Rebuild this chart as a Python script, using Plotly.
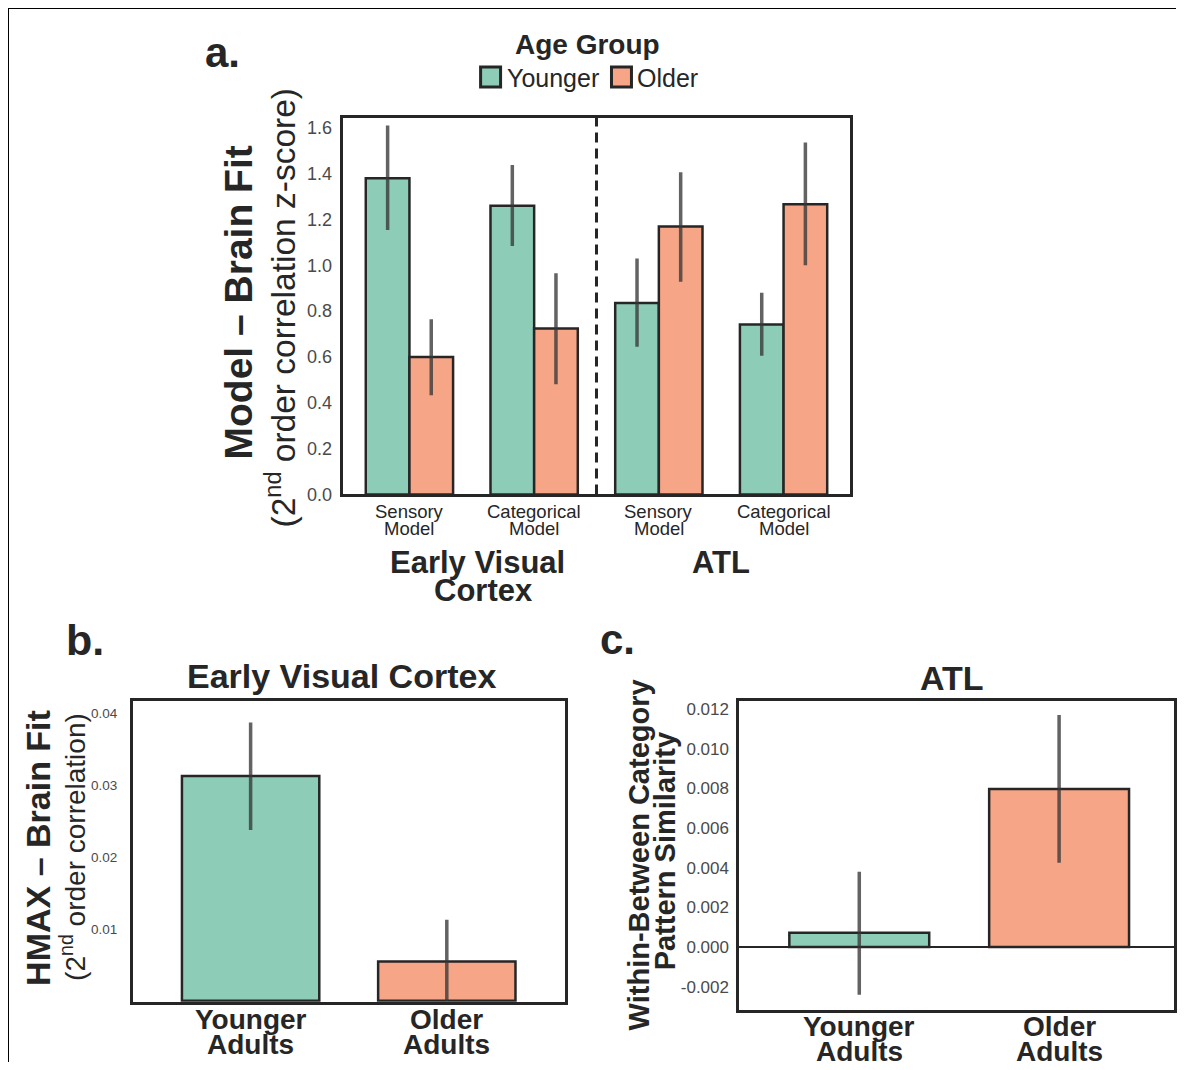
import plotly.graph_objects as go

# The page adds an 8px body margin; the photographed page also comes out
# slightly squashed vertically (about 0.991), so vertical reference pixel
# positions are stretched by that factor before being mapped to paper space.
OFF = 8
KY = 0.991
W = 1185 - 2 * OFF
H = int(round(1070 / KY)) - 2 * OFF


def px(x):
    return (x - OFF) / W


def py(y):
    return 1 - (y / KY - OFF) / H


# ---------------- data ----------------
# Panel a
a_tick_line1 = ["Sensory", "Categorical", "Sensory", "Categorical"]
a_tick_line2 = ["Model", "Model", "Model", "Model"]
a_positions = [0, 1, 2, 3]
a_younger = [1.38, 1.26, 0.835, 0.742]
a_younger_hi = [1.61, 1.437, 1.03, 0.88]
a_younger_lo = [1.154, 1.084, 0.644, 0.605]
a_older = [0.60, 0.724, 1.169, 1.266]
a_older_hi = [0.764, 0.965, 1.406, 1.536]
a_older_lo = [0.433, 0.481, 0.928, 1.0]
a_yticks = [0.0, 0.2, 0.4, 0.6, 0.8, 1.0, 1.2, 1.4, 1.6]

# Panels b and c
bc_line1 = ["Younger", "Older"]
bc_line2 = ["Adults", "Adults"]
bc_positions = [0, 1]
b_values = [0.03125, 0.00546]
b_hi = [0.0387, 0.01125]
b_lo = [0.02375, 0.0]
b_yticks = [0.01, 0.02, 0.03, 0.04]

c_values = [0.00072, 0.00797]
c_hi = [0.0038, 0.0117]
c_lo = [-0.0024, 0.00425]
c_yticks = [-0.002, 0.0, 0.002, 0.004, 0.006, 0.008, 0.010, 0.012]

# ---------------- styles ----------------
YOUNG = "#8dcdb7"
OLD = "#f6a587"
EDGE = "#262626"
ERR = "rgba(55,55,55,0.78)"
TXT = "#262626"
TICK = "#4a4a4a"
FONT = "Liberation Sans, Arial, Helvetica, sans-serif"


def err(vals, hi, lo):
    return dict(
        type="data",
        symmetric=False,
        array=[h - v for v, h in zip(vals, hi)],
        arrayminus=[v - l for v, l in zip(vals, lo)],
        width=0,
        thickness=3.5,
        color=ERR,
    )


fig = go.Figure()

fig.add_trace(go.Bar(
    x=a_positions, y=a_younger, name="Younger",
    marker=dict(color=YOUNG, line=dict(color=EDGE, width=2.5)),
    error_y=err(a_younger, a_younger_hi, a_younger_lo),
    xaxis="x", yaxis="y", showlegend=False,
))
fig.add_trace(go.Bar(
    x=a_positions, y=a_older, name="Older",
    marker=dict(color=OLD, line=dict(color=EDGE, width=2.5)),
    error_y=err(a_older, a_older_hi, a_older_lo),
    xaxis="x", yaxis="y", showlegend=False,
))
fig.add_trace(go.Bar(
    x=bc_positions, y=b_values, width=0.7,
    marker=dict(color=[YOUNG, OLD], line=dict(color=EDGE, width=2.5)),
    error_y=err(b_values, b_hi, b_lo),
    xaxis="x2", yaxis="y2", showlegend=False,
))
fig.add_trace(go.Bar(
    x=bc_positions, y=c_values, width=0.7,
    marker=dict(color=[YOUNG, OLD], line=dict(color=EDGE, width=2.5)),
    error_y=err(c_values, c_hi, c_lo),
    xaxis="x3", yaxis="y3", showlegend=False,
))

frame = dict(showline=True, mirror=True, linecolor=EDGE, linewidth=3,
             showgrid=False, ticks="", zeroline=False)

fig.update_layout(
    width=W, height=H,
    margin=dict(l=0, r=0, t=0, b=0),
    paper_bgcolor="white", plot_bgcolor="white",
    barmode="group", bargap=0.3, bargroupgap=0,
    font=dict(family=FONT, color=TXT),
    xaxis=dict(domain=[px(343), px(851)], range=[-0.535, 3.535],
               showticklabels=False, anchor="y", **frame),
    yaxis=dict(domain=[py(494), py(117)], range=[0, 1.643], anchor="x",
               tickvals=a_yticks, ticktext=[f"{v:.1f}" for v in a_yticks],
               tickfont=dict(size=18, color=TICK, family=FONT),
               ticklabelstandoff=4, **frame),
    xaxis2=dict(domain=[px(133), px(565)], range=[-0.6, 1.6],
                showticklabels=False, anchor="y2", **frame),
    yaxis2=dict(domain=[py(1002), py(701)], range=[-0.00014, 0.04167], anchor="x2",
                tickvals=b_yticks, ticktext=[f"{v:.2f}" for v in b_yticks],
                tickfont=dict(size=13.5, color=TICK, family=FONT),
                ticklabelstandoff=10, **frame),
    xaxis3=dict(domain=[px(740), px(1175)], range=[-0.6, 1.575],
                showticklabels=False, anchor="y3", **frame),
    yaxis3=dict(domain=[py(1010), py(701)], range=[-0.00316, 0.0124], anchor="x3",
                tickvals=c_yticks, ticktext=[f"{v:.3f}" for v in c_yticks],
                tickfont=dict(size=17, color=TICK, family=FONT),
                ticklabelstandoff=4,
                showline=True, mirror=True, linecolor=EDGE, linewidth=3,
                showgrid=False, ticks="",
                zeroline=True, zerolinecolor=EDGE, zerolinewidth=2),
)

shapes = [
    # image frame (top and left)
    dict(type="line", xref="paper", yref="paper", x0=0, x1=1, y0=py(7), y1=py(7),
         line=dict(color="black", width=2)),
    dict(type="line", xref="paper", yref="paper", x0=0, x1=0, y0=py(7), y1=0,
         line=dict(color="black", width=2)),
    # dashed separator in panel a
    dict(type="line", xref="x", yref="y domain", x0=1.5, x1=1.5, y0=0, y1=1,
         line=dict(color=EDGE, width=3, dash="10px,6px")),
    # legend swatches
    dict(type="rect", xref="paper", yref="paper", x0=px(481), x1=px(501), y0=py(86), y1=py(66),
         fillcolor=YOUNG, line=dict(color=EDGE, width=3)),
    dict(type="rect", xref="paper", yref="paper", x0=px(612), x1=px(632), y0=py(86), y1=py(66),
         fillcolor=OLD, line=dict(color=EDGE, width=3)),
]
fig.update_layout(shapes=shapes)

ann = []


def add(text, x, y, size, bold=False, family=FONT, color=TXT, xanchor="center",
        yanchor="middle", angle=0, xref="paper", yref="paper"):
    ann.append(dict(
        text=f"<b>{text}</b>" if bold else text,
        x=x, y=y, xref=xref, yref=yref, xanchor=xanchor, yanchor=yanchor,
        showarrow=False, textangle=angle,
        font=dict(size=size, family=family, color=color),
    ))


# panel a
add("a.", px(223), py(51), 42, bold=True)
add("Age Group", px(588), py(43), 28, bold=True)
add("Younger", px(505), py(77), 25, xanchor="left")
add("Older", px(636), py(77), 25, xanchor="left")
add("Model – Brain Fit", px(239), py(302), 39, bold=True, angle=-90)
add("(2<sup>nd</sup> order correlation z-score)", px(281), py(307), 33.5, angle=-90)
for pos, l1, l2 in zip(a_positions, a_tick_line1, a_tick_line2):
    add(l1, pos, py(511), 18.5, xref="x")
    add(l2, pos, py(528), 18.5, xref="x")
add("Early Visual", px(478), py(562), 31, bold=True)
add("Cortex", px(484), py(590), 31, bold=True)
add("ATL", px(722), py(562), 31, bold=True)

# panel b
add("b.", px(85), py(640), 43, bold=True)
add("Early Visual Cortex", px(342), py(676), 34, bold=True)
add("HMAX – Brain Fit", px(38), py(848), 34, bold=True, angle=-90)
add("(2<sup>nd</sup> order correlation)", px(73), py(847), 28, angle=-90)
for pos, l1, l2 in zip(bc_positions, bc_line1, bc_line2):
    add(l1, pos, py(1020), 28, bold=True, xref="x2")
    add(l2, pos, py(1045), 28, bold=True, xref="x2")

# panel c
add("c.", px(618), py(639), 42, bold=True)
add("ATL", px(953), py(678), 34, bold=True)
add("Within-Between Category", px(639), py(855), 29, bold=True, angle=-90)
add("Pattern Similarity", px(665), py(851), 29, bold=True, angle=-90)
for pos, l1, l2 in zip(bc_positions, bc_line1, bc_line2):
    add(l1, pos, py(1027), 28, bold=True, xref="x3")
    add(l2, pos, py(1052), 28, bold=True, xref="x3")

fig.update_layout(annotations=ann)

fig.write_html("out.html")
